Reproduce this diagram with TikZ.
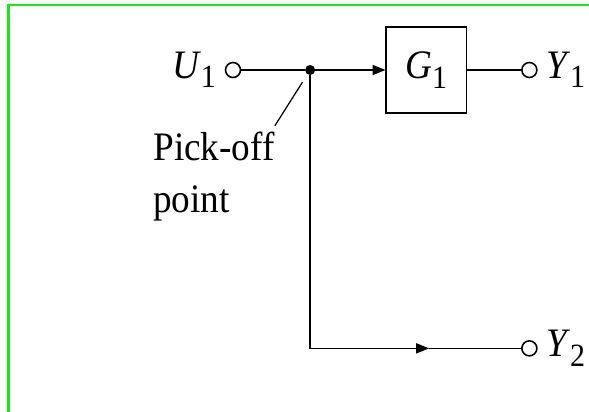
\documentclass[tikz,border=0pt]{standalone}
\usepackage{fontspec}
\setmainfont{Liberation Serif}[FakeStretch=0.92]
\usetikzlibrary{arrows.meta,positioning}

\definecolor{framegreen}{RGB}{20,235,20}
\newcommand{\sigsub}[2]{\textit{#1}\raisebox{-0.23em}{\fontsize{18.5}{18.5}\selectfont #2}}

\begin{document}
\begin{tikzpicture}[
font=\fontsize{23}{29.5}\selectfont,
terminal/.style={circle, draw, fill=white, line width=0.9pt, minimum size=0.3cm, inner sep=0pt},
pickoff/.style={circle, fill=black, minimum size=0.2cm, inner sep=0pt},
block/.style={rectangle, draw, line width=0.9pt, minimum width=1.6cm, minimum height=1.73cm},
signal/.style={inner sep=0pt},
wire/.style={line width=0.9pt},
arrow/.style={-{Triangle[length=0.26cm,width=0.2cm]}, line width=0.9pt}
]

\useasboundingbox (0,0) rectangle (11.78,-8.22);
\draw[framegreen, line width=0.05cm] (0.166,-8.3) -- (0.166,-0.10) -- (11.9,-0.10);

\node[terminal] (u1) at (4.66,-1.40) {};
\node[signal, left=0.17cm of u1] (u1label) {\sigsub{U}{1}};

\node[pickoff, right=1.27cm of u1] (pick) {};

\node[block, right=1.40cm of pick] (g1) {\sigsub{G}{1}};

\node[terminal, right=1.08cm of g1] (y1) {};
\node[signal, right=0.16cm of y1] (y1label) {\sigsub{Y}{1}};

\coordinate[below=5.46cm of pick] (corner);
\coordinate[right=2.38cm of corner] (mid);

\node[terminal] (y2) at (corner -| y1) {};
\node[signal, right=0.16cm of y2] (y2label) {\sigsub{Y}{2}};

\node[signal, align=left, below left=1.16cm and 0.63cm of pick] (picklabel) {Pick-off\\point};

% signal lines
\draw[wire] (u1) -- (pick);
\draw[arrow] (pick) -- (g1);
\draw[wire] (g1) -- (y1);
\draw[arrow] (pick) -- (corner) -- (mid);
\draw[wire] (mid) -- (y2);

% leader to the pick-off point
\draw[line width=0.7pt, shorten <=0.29cm] (pick.center) -- ([yshift=0.12cm]picklabel.north east);

\end{tikzpicture}
\end{document}
